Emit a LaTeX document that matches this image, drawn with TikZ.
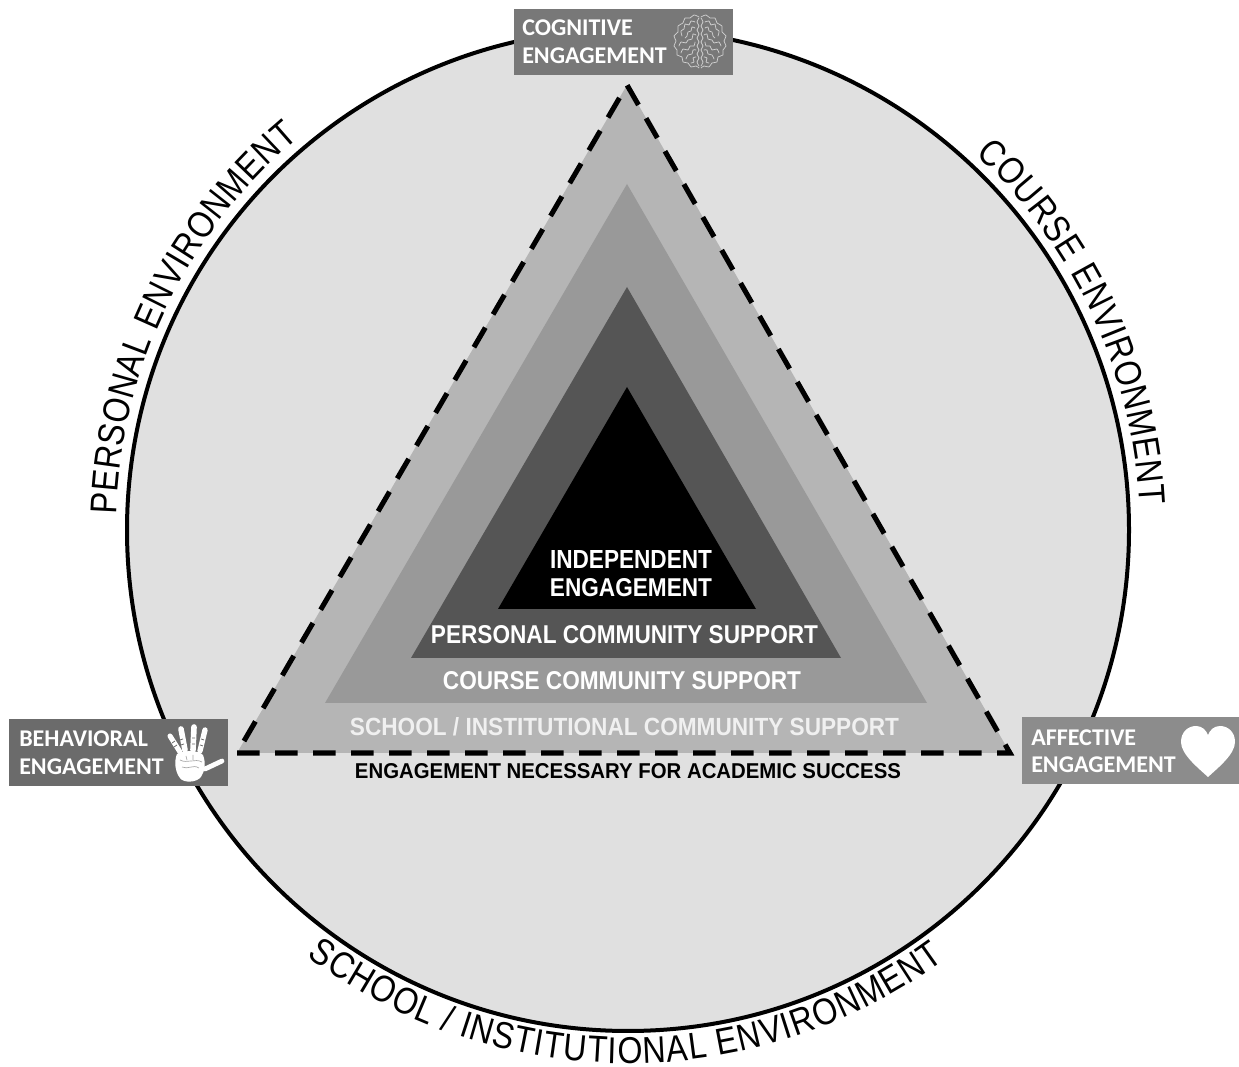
\documentclass[tikz,border=0pt]{standalone}
\usepackage{fontspec}
\usepackage{graphicx}
\usetikzlibrary{decorations.text}
\newfontfamily\mainbold{Liberation Sans}
\newfontfamily\arcfont[FakeStretch=0.86]{Liberation Sans}
\newfontfamily\labelfont{Carlito}
\newcommand{\fittext}[3]{\resizebox{\dimexpr #1pt*3/4\relax}{\dimexpr #2pt*3/4\relax}{\mainbold\bfseries #3}}
\definecolor{discgray}{HTML}{E0E0E0}
\definecolor{tria}{HTML}{B5B5B5}
\definecolor{trib}{HTML}{999999}
\definecolor{tric}{HTML}{555555}
\definecolor{cogbox}{HTML}{787878}
\definecolor{behbox}{HTML}{6B6B6B}
\definecolor{affbox}{HTML}{8C8C8C}
\tikzset{
  x=0.75pt,y=0.75pt,
  disc/.style={circle,draw=black,fill=discgray,line width=3pt,minimum size=1002*0.75pt,inner sep=0},
  tag/.style={draw=none,inner sep=0},
  inlabel/.style={inner sep=0,text=white},
  boxtext/.style={inner sep=0,text=white,anchor=west,font=\labelfont\bfseries\fontsize{18}{20}\selectfont},
  arctext/.style={decorate,decoration={text along path,text align=fit to path,text={|\arcfont\fontsize{28}{28}\selectfont|#1}}},
  brainline/.style={draw=white!82!black,line width=0.55pt,line cap=round,line join=round},
  finger/.style={draw=white,line cap=round,line width=4.2pt},
}
\begin{document}
\begin{tikzpicture}
\useasboundingbox (0,0) rectangle (1239,1067);
\node[disc] (circ) at (628,537) {};
\coordinate (ctr) at (628,537);
% triangles
\coordinate (a1) at (627,982); \coordinate (a2) at (237,314); \coordinate (a3) at (1010,314);
\coordinate (b1) at (627,883); \coordinate (b2) at (325,364); \coordinate (b3) at (927,364);
\coordinate (c1) at (627,780); \coordinate (c2) at (411,409); \coordinate (c3) at (841,409);
\coordinate (d1) at (627,680); \coordinate (d2) at (498,458); \coordinate (d3) at (756,458);
\fill[tria] (a1)--(a2)--(a3)--cycle;
\fill[trib] (b1)--(b2)--(b3)--cycle;
\fill[tric] (c1)--(c2)--(c3)--cycle;
\fill[black] (d1)--(d2)--(d3)--cycle;
\draw[line width=3.8pt,dash pattern=on 17pt off 11.5pt,line join=miter] (a2)--(a3)--(a1)--cycle;
% inner labels
\node[inlabel] (ind) at (631,507) {\fittext{162}{18}{INDEPENDENT}};
\node[inlabel] (eng) at (631,479) {\fittext{162}{18}{ENGAGEMENT}};
\node[inlabel] (pcs) at (624.5,432) {\fittext{387}{18}{PERSONAL COMMUNITY SUPPORT}};
\node[inlabel] (ccs) at (622,386) {\fittext{358}{18}{COURSE COMMUNITY SUPPORT}};
\node[inlabel,text=white!94!black] (scs) at (624.5,340) {\fittext{549}{18}{SCHOOL / INSTITUTIONAL COMMUNITY SUPPORT}};
\node[inlabel,text=black] (ens) at (628,296) {\fittext{546}{15}{ENGAGEMENT NECESSARY FOR ACADEMIC SUCCESS}};
% arc texts
\path[arctext=PERSONAL ENVIRONMENT] (ctr) ++(178.3:512) arc[start angle=178.3,end angle=130,radius=512];
\path[arctext=COURSE ENVIRONMENT] (ctr) ++(47.2:512) arc[start angle=47.2,end angle=2.8,radius=512];
\path[arctext=SCHOOL / INSTITUTIONAL ENVIRONMENT] (ctr) ++(233:533.5) arc[start angle=233,end angle=306.3,radius=533.5];
% engagement boxes
\node[tag,fill=cogbox,minimum width=219*0.75pt,minimum height=66*0.75pt] (cog) at (623.5,1025) {};
\node[tag,fill=behbox,minimum width=219*0.75pt,minimum height=67*0.75pt] (beh) at (118.5,314.5) {};
\node[tag,fill=affbox,minimum width=217*0.75pt,minimum height=67*0.75pt] (aff) at (1130.5,316.5) {};
\node[boxtext] (cog1) at (522,1039) {COGNITIVE};
\node[boxtext] (cog2) at (522,1011) {ENGAGEMENT};
\node[boxtext] (beh1) at (19,328) {BEHAVIORAL};
\node[boxtext] (beh2) at (19,300) {ENGAGEMENT};
\node[boxtext] (aff1) at (1031,329) {AFFECTIVE};
\node[boxtext] (aff2) at (1031,302) {ENGAGEMENT};
% heart
\fill[white] (1208,290) .. controls (1197,300) and (1181,313) .. (1181,325)
  .. controls (1181,335) and (1188,341) .. (1196,341)
  .. controls (1202,341) and (1206,337) .. (1208,332)
  .. controls (1210,337) and (1214,341) .. (1220,341)
  .. controls (1228,341) and (1235,335) .. (1235,325)
  .. controls (1235,313) and (1219,300) .. (1208,290) -- cycle;
% hand
\begin{scope}[shift={(190,300)}]
  \draw[finger,line width=3.8pt] (-10,15) -- (-20,31);
  \draw[finger] (-5,17) -- (-9,38);
  \draw[finger] (3,17) -- (4,40);
  \draw[finger,line width=4pt] (10,16) -- (15,37);
  \draw[finger,line width=3.6pt] (15,-2) -- (32,6);
  \fill[white] (-13,13) .. controls (-5,17) and (8,17) .. (13,12)
    .. controls (16,4) and (15,-4) .. (11,-10)
    .. controls (6,-16) and (-7,-16) .. (-10,-11)
    .. controls (-15,-5) and (-16,6) .. (-13,13) -- cycle;
  \draw[behbox,line width=0.6pt] (-18,24)--(-15,26) (-16,20)--(-13,22) (-10,27)--(-7,28) (-9,22)--(-6,23) (2,29)--(5,29) (2,23)--(5,23) (11,28)--(14,27) (10,22)--(13,21);
  \draw[white!65!black,line width=0.5pt] (-10,7) .. controls (-3,3) and (5,9) .. (12,5)
    (-8,0) .. controls (-2,-3) and (3,3) .. (9,-1)
    (-4,11)--(-3,7) (3,12)--(3,7);
\end{scope}
% brain
\begin{scope}[shift={(700,1025)}]
  \foreach \s in {1,-1}{
    \begin{scope}[xscale=\s]
      \draw[brainline] plot[smooth] coordinates {(-1,25) (-6,27) (-10,24) (-15,24) (-17,19) (-22,16) (-22,10) (-26,6) (-24,1) (-26,-4) (-23,-8) (-23,-13) (-18,-15) (-17,-20) (-12,-21) (-9,-25) (-4,-24) (-1,-26)};
      \draw[brainline] plot[smooth] coordinates {(-1,24) (-3,20) (-1,16) (-3,12) (-1,8) (-3,4) (-1,0) (-3,-4) (-1,-8) (-3,-12) (-1,-16) (-3,-20) (-1,-24)};
      \draw[brainline] plot[smooth] coordinates {(-5,20) (-9,21) (-11,17) (-15,18) (-16,13) (-19,11) (-18,6)};
      \draw[brainline] plot[smooth] coordinates {(-5,14) (-8,15) (-9,11) (-12,10) (-13,6) (-15,4)};
      \draw[brainline] plot[smooth] coordinates {(-4,7) (-7,8) (-8,3) (-12,2) (-14,-1) (-19,0) (-21,-4)};
      \draw[brainline] plot[smooth] coordinates {(-5,0) (-6,-4) (-10,-4) (-12,-8) (-17,-7) (-19,-11)};
      \draw[brainline] plot[smooth] coordinates {(-4,-8) (-7,-8) (-8,-12) (-12,-13) (-14,-17)};
      \draw[brainline] plot[smooth] coordinates {(-4,-15) (-7,-16) (-6,-20) (-9,-21)};
    \end{scope}
  }
\end{scope}
\end{tikzpicture}
\end{document}
